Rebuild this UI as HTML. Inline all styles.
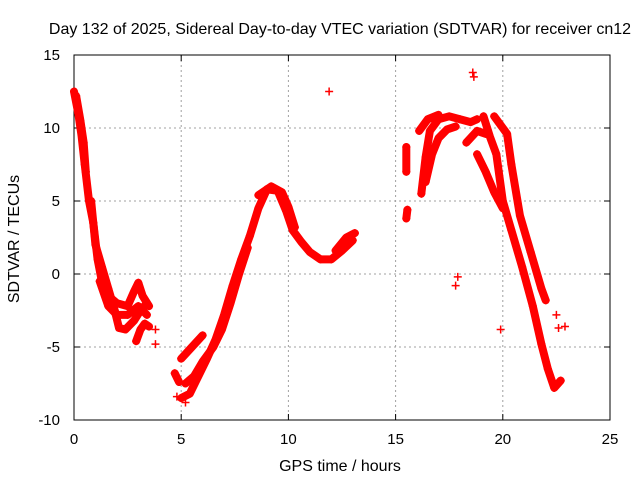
<!DOCTYPE html>
<html><head><meta charset="utf-8"><style>
body{margin:0;background:#fff;}
svg{display:block;font-family:"Liberation Sans",sans-serif;}
</style></head><body>
<svg id="chart" width="640" height="480">
<text x="340" y="34" font-size="16" text-anchor="middle">Day 132 of 2025, Sidereal Day-to-day VTEC variation (SDTVAR) for receiver cn12</text>
<text x="340" y="471" font-size="16" text-anchor="middle">GPS time / hours</text>
<text transform="translate(19,239) rotate(-90)" font-size="16" text-anchor="middle">SDTVAR / TECUs</text>
<g id="grid"></g><g id="axes"></g><g id="marks"></g>
</svg>
<script>
const xTicks=[0,5,10,15,20,25];
const yTicks=[-10,-5,0,5,10,15];
const trackA=[[0,12.5],[0.2,11],[0.35,9.5],[0.5,7.5],[0.7,5],[0.9,3.5],[1.1,1],[1.3,-0.5],[1.6,-1.5],[2,-2],[2.5,-2.2],[2.8,-1.2],[3,-0.6],[3.2,-1.5],[3.5,-2.2]];
const trackA2=[[0.8,5],[1,2],[1.3,0.5],[1.6,-1],[1.9,-2.5],[2.1,-3.7],[2.4,-3.8],[2.8,-3.2],[3.1,-2.5],[3.4,-2]];
const trackA3=[[2.9,-4.6],[3.1,-3.8],[3.3,-3.4],[3.5,-3.6]];
const trackA4=[[1.2,-0.5],[1.6,-2.2],[2,-2.8],[2.5,-2.8],[3,-2.2],[3.4,-2.8]];
const trackA5=[[0.1,12.2],[0.3,10.5],[0.45,9],[0.55,7]];
const trackB=[[5,-8.5],[5.4,-8.2],[5.8,-7],[6.2,-5.8],[6.6,-4.5],[7,-2.8],[7.4,-0.8],[7.8,1],[8.2,2.6],[8.6,4.5],[9,5.8],[9.5,5.7],[9.9,4.3],[10.2,3],[10.6,2.2],[11,1.5],[11.5,1],[12,1],[12.5,1.6],[13,2.3]];
const trackB2=[[4.7,-6.8],[4.9,-7.4]];
const trackB3=[[5,-5.8],[5.5,-5],[6,-4.2]];
const trackB4=[[8.6,5.4],[9.2,6],[9.7,5.6],[10,4.6],[10.3,3.2]];
const trackB5=[[12.2,1.6],[12.7,2.5],[13.1,2.8]];
const trackB6=[[5.2,-7.5],[5.6,-7],[6,-6],[6.5,-5],[6.9,-3.8],[7.3,-2],[7.7,0],[8.1,1.8]];
const trackC1=[[16.2,5.5],[16.4,8],[16.6,9.8],[17,10.6],[17.5,10.8],[18,10.6],[18.5,10.4],[18.8,10.6]];
const trackC2=[[16.4,6.3],[16.7,8.2],[17,9.3],[17.4,9.9],[17.8,10.1]];
const trackC3=[[16.1,9.8],[16.5,10.6],[17,10.9]];
const trackD=[[19.1,10.8],[19.4,9.4],[19.7,8.2],[20,5],[20.4,3],[20.9,0.5],[21.4,-2.2],[21.8,-4.8],[22.1,-6.5],[22.4,-7.8],[22.7,-7.3]];
const trackD2=[[19.6,10.8],[20.2,9.6],[20.4,7.5],[20.8,4],[21.3,1.5],[21.8,-1],[22,-1.8]];
const trackD3=[[18.8,8.2],[19.2,7],[19.6,5.6],[20,4.5]];
const trackD4=[[18.3,9],[18.8,9.8],[19.2,9.6]];
const trackE1=[[15.5,8.7],[15.5,7]];
const trackE2=[[15.55,4.4],[15.5,3.8]];
const singles=[[11.9,12.5],[18.6,13.8],[18.65,13.5],[17.9,-0.2],[17.8,-0.8],[19.9,-3.8],[22.5,-2.8],[22.6,-3.7],[22.9,-3.6],[3.8,-3.8],[3.8,-4.8],[4.8,-8.4],[5.2,-8.8]];
const tracks=[trackA,trackA2,trackA3,trackA4,trackA5,trackB,trackB2,trackB3,trackB4,trackB5,trackB6,trackC1,trackC2,trackC3,trackD,trackD2,trackD3,trackD4,trackE1,trackE2];
const X0=74,X1=610,Y0=420,Y1=55;
const xs=v=>X0+(v-0)/(25-0)*(X1-X0);
const ys=v=>Y0-(v+10)/(25)*(Y0-Y1);
const NS='http://www.w3.org/2000/svg';
function mk(tag,attrs,parent){const e=document.createElementNS(NS,tag);for(const k in attrs)e.setAttribute(k,attrs[k]);parent.appendChild(e);return e;}
const grid=document.getElementById('grid'),axes=document.getElementById('axes'),marks=document.getElementById('marks');
xTicks.forEach(t=>{
  if(t>0&&t<25){const l=mk('line',{x1:xs(t),x2:xs(t),y1:Y1,y2:Y0,stroke:'#a0a0a0','stroke-dasharray':'2,3'},grid);
  
  }
  const tx=mk('text',{x:xs(t),y:Y0+24,'font-size':15,'text-anchor':'middle'},axes);tx.textContent=t;
  
  
  mk('line',{x1:xs(t),x2:xs(t),y1:Y0,y2:Y0-6,stroke:'#000'},axes);
  mk('line',{x1:xs(t),x2:xs(t),y1:Y1,y2:Y1+6,stroke:'#000'},axes);
});
yTicks.forEach(t=>{
  if(t>-10&&t<15){const l=mk('line',{x1:X0,x2:X1,y1:ys(t),y2:ys(t),stroke:'#a0a0a0','stroke-dasharray':'2,3'},grid);
  
  }
  const tx=mk('text',{x:X0-14,y:ys(t)+5,'font-size':15,'text-anchor':'end'},axes);tx.textContent=t;
  
  
  mk('line',{x1:X0,x2:X0+6,y1:ys(t),y2:ys(t),stroke:'#000'},axes);
  mk('line',{x1:X1,x2:X1-6,y1:ys(t),y2:ys(t),stroke:'#000'},axes);
});
const frame=mk('rect',{x:X0,y:Y1,width:X1-X0,height:Y0-Y1,fill:'none',stroke:'#000'},axes);


tracks.forEach(tr=>{
  const p=mk('polyline',{points:tr.map(d=>xs(d[0])+','+ys(d[1])).join(' '),fill:'none',stroke:'#ff0000','stroke-width':8,'stroke-linejoin':'round','stroke-linecap':'round'},marks);
  
  
});
tracks.concat([singles]).forEach(tr=>tr.forEach(d=>{
  const x=xs(d[0]),y=ys(d[1]);
  const g=mk('path',{d:`M${x-4},${y}H${x+4}M${x},${y-4}V${y+4}`,stroke:'#ff0000','stroke-width':1.5},marks);
  
  
}));
</script>
</body></html>
